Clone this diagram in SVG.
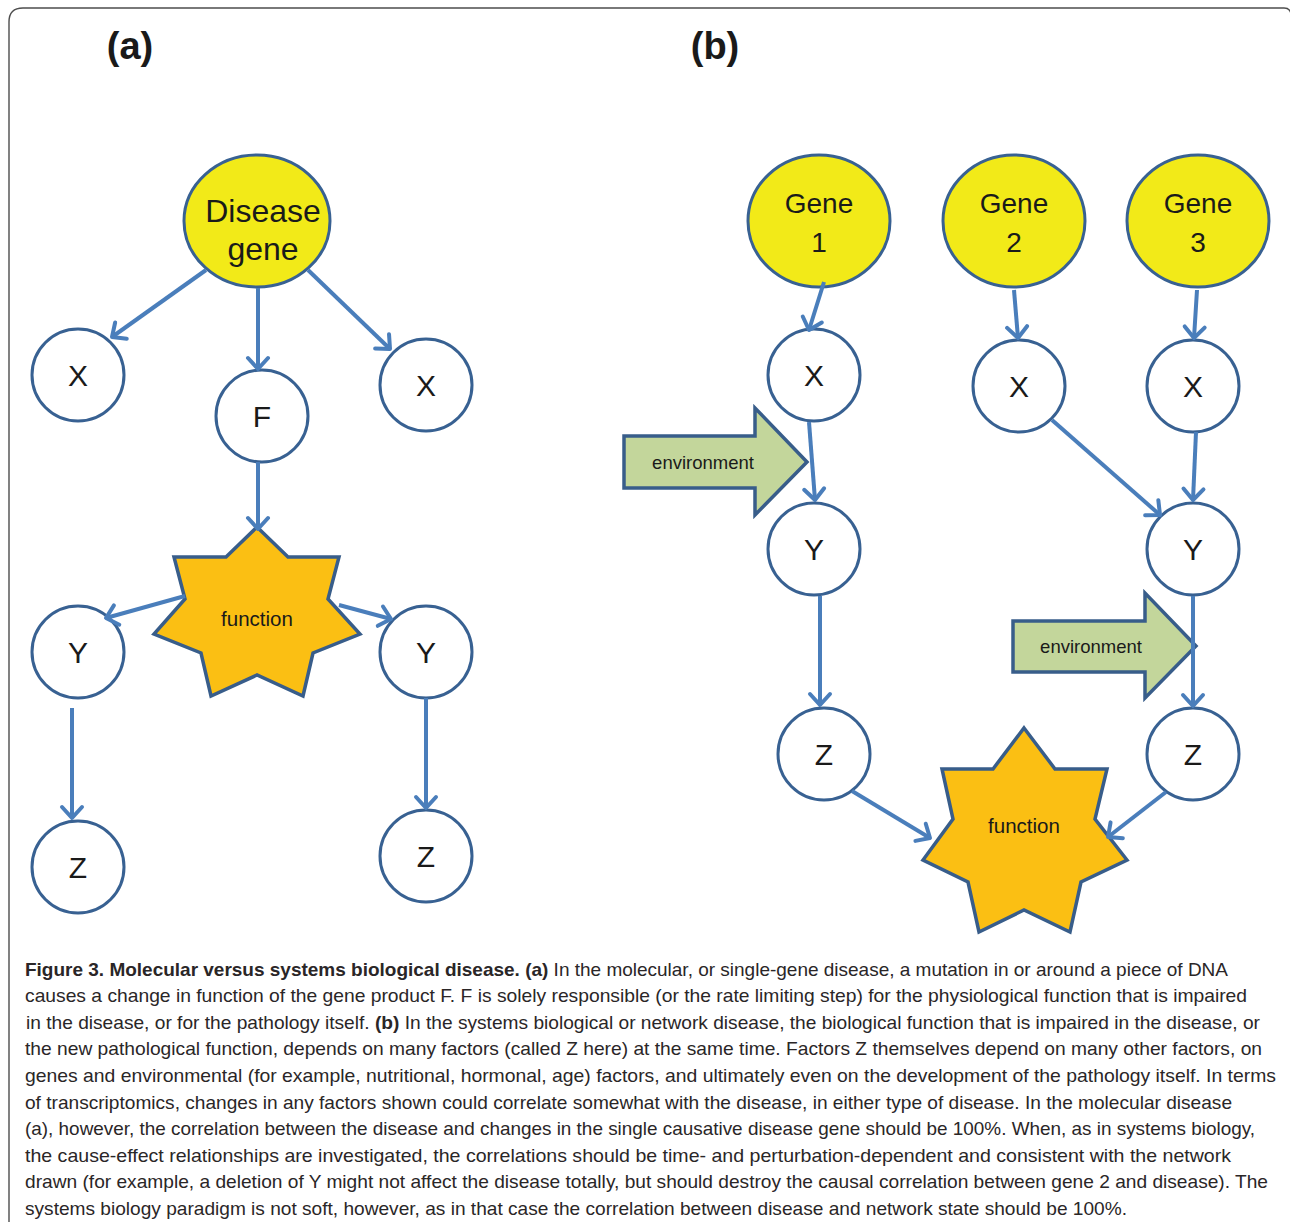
<svg xmlns="http://www.w3.org/2000/svg" width="1290" height="1225" viewBox="0 0 1290 1225">
<style>
.nd{fill:#ffffff;stroke:#386192;stroke-width:3}
.gn{fill:#f2ea18;stroke:#386192;stroke-width:3}
.st{fill:#fbbf13;stroke:#385d8a;stroke-width:3.5;stroke-linejoin:miter}
.env{fill:#c3d69b;stroke:#385d8a;stroke-width:3.5}
.lt{font-family:"Liberation Sans",Arial,sans-serif;font-size:30px;fill:#1a1a1a;text-anchor:middle}
.gt{font-family:"Liberation Sans",Arial,sans-serif;font-size:28px;fill:#1a1a1a;text-anchor:middle}
.ft{font-family:"Liberation Sans",Arial,sans-serif;font-size:20.5px;fill:#1a1a1a;text-anchor:middle}
.et{font-family:"Liberation Sans",Arial,sans-serif;font-size:18.5px;fill:#1a1a1a;text-anchor:middle}
.cn line{stroke:#4a7ebb;stroke-width:4;marker-end:url(#ah)}
.ttl{font-family:"Liberation Sans",Arial,sans-serif;font-size:38px;font-weight:bold;fill:#1a1a1a;text-anchor:middle}
.cap{font-family:"Liberation Sans",Arial,sans-serif;font-size:18.5px;fill:#2a2627}
.b{font-weight:bold}
</style>
<defs>
<marker id="ah" markerUnits="userSpaceOnUse" markerWidth="30" markerHeight="30" viewBox="-15 -15 30 30" refX="0" refY="0" orient="auto">
<path d="M-11,-10 L0,0 L-11,10" fill="none" stroke="#4a7ebb" stroke-width="4" stroke-linecap="round" stroke-linejoin="round"/>
</marker>
</defs>
<rect width="1290" height="1225" fill="#ffffff"/>
<path d="M9,1222 L9,22 Q9,8 23,8 L1284,8 Q1290,8 1291,14" fill="none" stroke="#4d4d4d" stroke-width="1.4"/>
<text class="ttl" x="130" y="59">(a)</text>
<text class="ttl" x="715" y="59">(b)</text>

<g id="a-disease-gene"><ellipse class="gn" cx="257" cy="221" rx="73" ry="66"/><text class="lt" x="263" y="222" style="font-size:32px">Disease</text><text class="lt" x="263" y="260" style="font-size:32px">gene</text></g>
<g id="a-x1"><circle class="nd" cx="78" cy="375" r="46"/><text class="lt" x="78" y="386">X</text></g>
<g id="a-f"><circle class="nd" cx="262" cy="416" r="46"/><text class="lt" x="262" y="427">F</text></g>
<g id="a-x2"><circle class="nd" cx="426" cy="385" r="46"/><text class="lt" x="426" y="396">X</text></g>
<g id="a-function"><polygon class="st" points="257,527 288,557 339,557 328,599 360,634 313,653 303,696 257,675 211,696 201,653 154,634 185,599 174,557 226,557"/><text class="ft" x="257" y="626">function</text></g>
<g id="a-y1"><circle class="nd" cx="78" cy="652" r="46"/><text class="lt" x="78" y="663">Y</text></g>
<g id="a-y2"><circle class="nd" cx="426" cy="652" r="46"/><text class="lt" x="426" y="663">Y</text></g>
<g id="a-z1"><circle class="nd" cx="78" cy="867" r="46"/><text class="lt" x="78" y="878">Z</text></g>
<g id="a-z2"><circle class="nd" cx="426" cy="856" r="46"/><text class="lt" x="426" y="867">Z</text></g>

<g id="b-gene1"><ellipse class="gn" cx="819" cy="221" rx="71" ry="66"/><text class="gt" x="819" y="213">Gene</text><text class="gt" x="819" y="252">1</text></g>
<g id="b-gene2"><ellipse class="gn" cx="1014" cy="221" rx="71" ry="66"/><text class="gt" x="1014" y="213">Gene</text><text class="gt" x="1014" y="252">2</text></g>
<g id="b-gene3"><ellipse class="gn" cx="1198" cy="221" rx="71" ry="66"/><text class="gt" x="1198" y="213">Gene</text><text class="gt" x="1198" y="252">3</text></g>
<g id="b-x1"><circle class="nd" cx="814" cy="375" r="46"/><text class="lt" x="814" y="386">X</text></g>
<g id="b-x2"><circle class="nd" cx="1019" cy="386" r="46"/><text class="lt" x="1019" y="397">X</text></g>
<g id="b-x3"><circle class="nd" cx="1193" cy="386" r="46"/><text class="lt" x="1193" y="397">X</text></g>
<g id="b-env1"><polygon class="env" points="624,436 755,436 755,408 807,462 755,515 755,488 624,488"/><text class="et" x="703" y="469">environment</text></g>
<g id="b-y1"><circle class="nd" cx="814" cy="549" r="46"/><text class="lt" x="814" y="560">Y</text></g>
<g id="b-y3"><circle class="nd" cx="1193" cy="549" r="46"/><text class="lt" x="1193" y="560">Y</text></g>
<g id="b-env2"><polygon class="env" points="1013,621 1145,621 1145,593 1196,646 1145,698 1145,672 1013,672"/><text class="et" x="1091" y="653">environment</text></g>
<g id="b-z1"><circle class="nd" cx="824" cy="754" r="46"/><text class="lt" x="824" y="765">Z</text></g>
<g id="b-z3"><circle class="nd" cx="1193" cy="754" r="46"/><text class="lt" x="1193" y="765">Z</text></g>
<g id="b-function"><polygon class="st" points="1024,728 1055,769 1107,769 1095,819 1127,860 1081,882 1070,932 1024,910 979,932 968,882 923,860 953,819 942,769 993,769"/><text class="ft" x="1024" y="833">function</text></g>

<g id="connectors" class="cn">
<line x1="206" y1="270" x2="112" y2="337"/>
<line x1="258" y1="288" x2="258" y2="369"/>
<line x1="308" y1="270" x2="390" y2="349"/>
<line x1="258" y1="462" x2="258" y2="529"/>
<line x1="185" y1="596" x2="106" y2="618"/>
<line x1="339" y1="605" x2="391" y2="619"/>
<line x1="72" y1="708" x2="72" y2="818"/>
<line x1="426" y1="698" x2="426" y2="808"/>
<line x1="824" y1="282" x2="809" y2="330"/>
<line x1="1014" y1="290" x2="1018" y2="338"/>
<line x1="1197" y1="290" x2="1194" y2="338"/>
<line x1="809" y1="422" x2="815" y2="500"/>
<line x1="820" y1="596" x2="820" y2="705"/>
<line x1="1052" y1="420" x2="1160" y2="515"/>
<line x1="1196" y1="432" x2="1193" y2="500"/>
<line x1="1193" y1="596" x2="1193" y2="706"/>
<line x1="852" y1="791" x2="930" y2="838"/>
<line x1="1166" y1="792" x2="1108" y2="837"/>
</g>

<g id="caption">
<text class="cap" x="25" y="976" textLength="1203" lengthAdjust="spacingAndGlyphs"><tspan class="b">Figure 3. Molecular versus systems biological disease. (a)</tspan> In the molecular, or single-gene disease, a mutation in or around a piece of DNA</text>
<text class="cap" x="25" y="1002" textLength="1222" lengthAdjust="spacingAndGlyphs">causes a change in function of the gene product F. F is solely responsible (or the rate limiting step) for the physiological function that is impaired</text>
<text class="cap" x="26" y="1029" textLength="1234" lengthAdjust="spacingAndGlyphs">in the disease, or for the pathology itself. <tspan class="b">(b)</tspan> In the systems biological or network disease, the biological function that is impaired in the disease, or</text>
<text class="cap" x="25" y="1055" textLength="1237" lengthAdjust="spacingAndGlyphs">the new pathological function, depends on many factors (called Z here) at the same time. Factors Z themselves depend on many other factors, on</text>
<text class="cap" x="25" y="1082" textLength="1251" lengthAdjust="spacingAndGlyphs">genes and environmental (for example, nutritional, hormonal, age) factors, and ultimately even on the development of the pathology itself. In terms</text>
<text class="cap" x="25" y="1109" textLength="1207" lengthAdjust="spacingAndGlyphs">of transcriptomics, changes in any factors shown could correlate somewhat with the disease, in either type of disease. In the molecular disease</text>
<text class="cap" x="25" y="1135" textLength="1230" lengthAdjust="spacingAndGlyphs">(a), however, the correlation between the disease and changes in the single causative disease gene should be 100%. When, as in systems biology,</text>
<text class="cap" x="25" y="1162" textLength="1206" lengthAdjust="spacingAndGlyphs">the cause-effect relationships are investigated, the correlations should be time- and perturbation-dependent and consistent with the network</text>
<text class="cap" x="25" y="1188" textLength="1243" lengthAdjust="spacingAndGlyphs">drawn (for example, a deletion of Y might not affect the disease totally, but should destroy the causal correlation between gene 2 and disease). The</text>
<text class="cap" x="25" y="1215" textLength="1102" lengthAdjust="spacingAndGlyphs">systems biology paradigm is not soft, however, as in that case the correlation between disease and network state should be 100%.</text>
</g>
</svg>
